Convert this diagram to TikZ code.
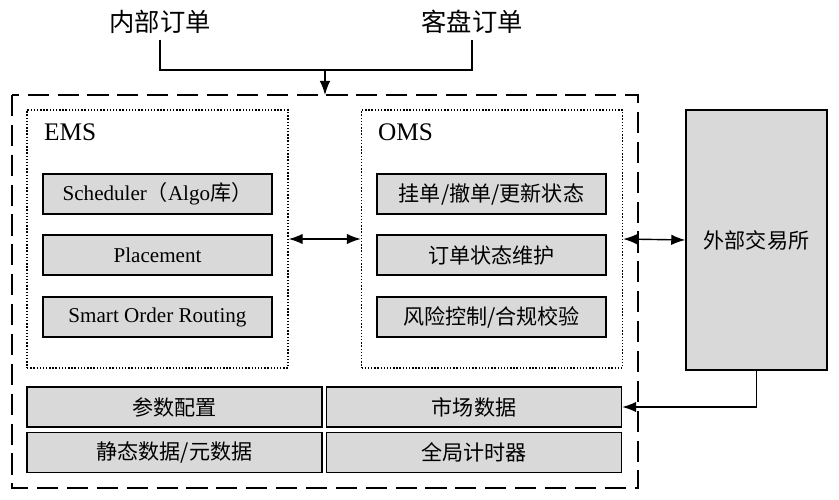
\documentclass[tikz,border=0pt]{standalone}
\usepackage{fontspec}
\setmainfont{Liberation Serif}
\newfontfamily\cjk{Noto Sans CJK SC}
\usetikzlibrary{arrows.meta}
\begin{document}
\begin{tikzpicture}[x=0.02cm,y=-0.02cm,
panel/.style={draw=black, densely dotted, thick, minimum width=5.22cm, minimum height=5.16cm},
item/.style={draw=black, fill=black!15, thick, minimum width=4.58cm, minimum height=0.8cm, font=\large},
base/.style={draw=black, fill=black!15, thick, minimum width=5.9cm, minimum height=0.8cm, font=\large},
link/.style={thick, {Latex[length=8pt,width=6pt]}-{Latex[length=8pt,width=6pt]}}
]
\useasboundingbox (0,0) rectangle (839,500);
\node[font=\Large\cjk] (inner) at (160,22) {内部订单};
\node[font=\Large\cjk] (client) at (472,22) {客盘订单};
\draw[thick, dash pattern=on 12pt off 5pt] (12,95) rectangle (638,488);
\node[panel] (ems) at (157.5,239) {};
\node[panel] (oms) at (492,239) {};
\node[font=\Large, anchor=west] at (38,132) {EMS};
\node[font=\Large, anchor=west] at (372,132) {OMS};
\node[item] (sched) at (157.5,194) {Scheduler{\cjk （}Algo{\cjk 库）}};
\node[item] (place) at (157.5,255) {Placement};
\node[item] (sor) at (157.5,317) {Smart Order Routing};
\node[item, font=\large\cjk] (post) at (491.5,194) {挂单/撤单/更新状态};
\node[item, font=\large\cjk] (state) at (491.5,255) {订单状态维护};
\node[item, font=\large\cjk] (risk) at (491.5,317) {风险控制/合规校验};
\node[draw=black, fill=black!15, thick, minimum width=2.82cm, minimum height=5.2cm, font=\large\cjk] (exch) at (756.5,240) {外部交易所};
\node[base, font=\large\cjk] (param) at (174.5,407) {参数配置};
\node[base, font=\large\cjk] (market) at (474,407) {市场数据};
\node[base, font=\large\cjk] (static) at (174.5,452.5) {静态数据/元数据};
\node[base, font=\large\cjk] (timer) at (474,452.5) {全局计时器};
\coordinate (join) at (325,70);
\coordinate (entry) at (325,95);
\draw[thick] (inner.south) |- (join) -| (client.south);
\draw[thick, -{Latex[length=8pt,width=6pt]}] (join) -- (entry);
\draw[link] (ems.east) -- (oms.west);
\draw[link] (oms.east) -- (exch.west);
\draw[thick, -{Latex[length=8pt,width=6pt]}] (exch.south) |- (market.east);
\end{tikzpicture}
\end{document}
